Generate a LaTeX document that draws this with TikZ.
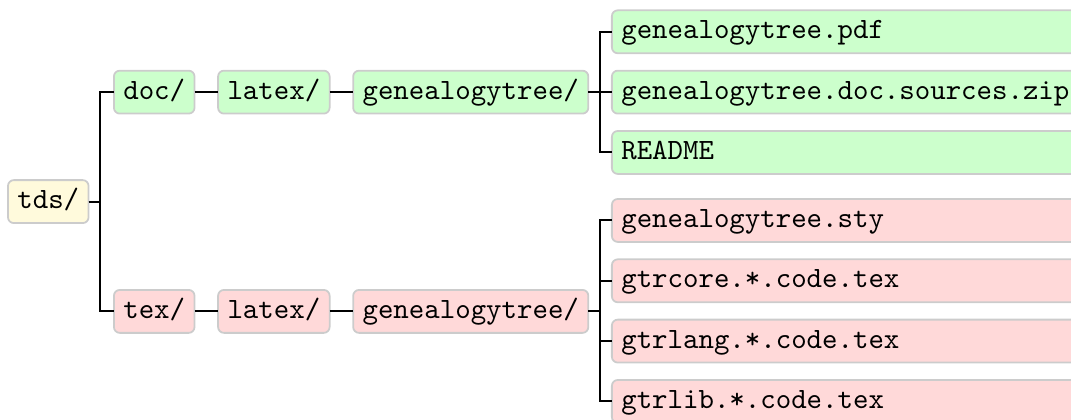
\documentclass[tikz,border=0pt]{standalone}
\usepackage{xcolor}
\usepackage{tikz}
\usetikzlibrary{positioning}
\definecolor{rootfill}{HTML}{FFFADC}
\definecolor{docfill}{HTML}{CCFFCC}
\definecolor{texfill}{HTML}{FFD9D9}
\definecolor{boxdraw}{HTML}{CCCCCC}
\tikzset{
  dir/.style={rectangle, rounded corners=2pt, draw=boxdraw, line width=0.6pt, outer sep=0pt, font=\ttfamily, inner xsep=3.2pt, inner ysep=2.5pt, text height=7pt, text depth=2.2pt, minimum height=14.6pt, anchor=west},
  rootdir/.style={dir, fill=rootfill},
  docdir/.style={dir, fill=docfill},
  texdir/.style={dir, fill=texfill},
  docfile/.style={docdir, minimum width=158.6pt, text width=152.2pt, align=left},
  texfile/.style={texdir, minimum width=158.6pt, text width=152.2pt, align=left},
  con/.style={line width=0.7pt, draw=black},
}
\begin{document}
\begin{tikzpicture}[node distance=8pt]
  \useasboundingbox (0,0) rectangle (363.9pt,-142.4pt);
  \node[rootdir] (tds) at (2.7pt,-68.5pt) {tds/};
  % doc branch
  \node[docdir] (doc) at (38.7pt,-31.3pt) {doc/};
  \node[docdir, right=of doc] (ldoc) {latex/};
  \node[docdir, right=of ldoc] (gdoc) {genealogytree/};
  \node[docfile, right=of gdoc, yshift=20.5pt] (pdf) {genealogytree.pdf};
  \node[docfile, below=5.9pt of pdf] (zip) {genealogytree.doc.sources.zip};
  \node[docfile, below=5.9pt of zip] (readme) {README};
  % tex branch
  \node[texdir] (tex) at (38.7pt,-105.8pt) {tex/};
  \node[texdir, right=of tex] (ltex) {latex/};
  \node[texdir, right=of ltex] (gtex) {genealogytree/};
  \node[texfile, right=of gtex, yshift=30.9pt] (sty) {genealogytree.sty};
  \node[texfile, below=5.9pt of sty] (core) {gtrcore.*.code.tex};
  \node[texfile, below=5.9pt of core] (lang) {gtrlang.*.code.tex};
  \node[texfile, below=5.9pt of lang] (lib) {gtrlib.*.code.tex};
  % connectors
  \foreach \c in {doc,tex}
    \draw[con] (tds.east) -- ++(4pt,0) |- (\c.west);
  \draw[con] (doc) -- (ldoc);
  \draw[con] (ldoc) -- (gdoc);
  \draw[con] (tex) -- (ltex);
  \draw[con] (ltex) -- (gtex);
  \foreach \f in {pdf,zip,readme}
    \draw[con] (gdoc.east) -- ++(4pt,0) |- (\f.west);
  \foreach \f in {sty,core,lang,lib}
    \draw[con] (gtex.east) -- ++(4pt,0) |- (\f.west);
\end{tikzpicture}
\end{document}
